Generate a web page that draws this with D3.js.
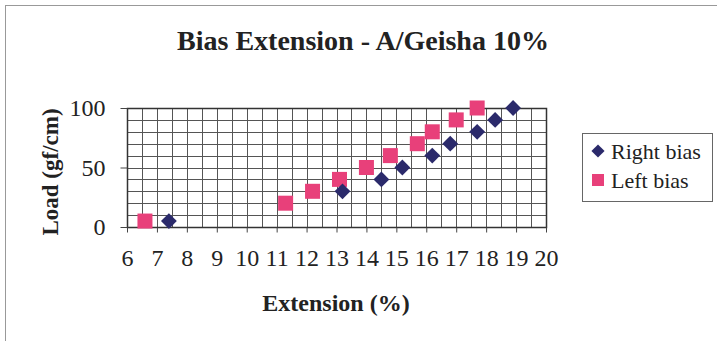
<!DOCTYPE html>
<html>
<head>
<meta charset="utf-8">
<script src="https://cdn.jsdelivr.net/npm/d3@7"></script>
<style>
  body { margin: 0; background: #fff; }
  svg { display: block; font-family: "Liberation Serif", "Times New Roman", serif; }
</style>
</head>
<body>
<div id="chart"></div>
<script>
(function () {
    'use strict';

    var rightExt = [7.4, 13.2, 14.5, 15.2, 16.2, 16.8, 17.7, 18.3, 18.9];
    var rightLoad = [5, 30, 40, 50, 60, 70, 80, 90, 100];
    var leftExt = [6.6, 11.3, 12.2, 13.1, 14.0, 14.8, 15.7, 16.2, 17.0, 17.7];
    var leftLoad = [5, 20, 30, 40, 50, 60, 70, 80, 90, 100];
    var xTicks = [6, 7, 8, 9, 10, 11, 12, 13, 14, 15, 16, 17, 18, 19, 20];
    var yTicks = [0, 50, 100];
    var seriesNames = ['Right bias', 'Left bias'];

    var width = 717, height = 341;
    var plot = { left: 127, right: 546, top: 108, bottom: 227 };
    var navy = '#2b2a6b';
    var pink = '#e8407a';
    var ink = '#222';

    var svg = d3.select('#chart').append('svg')
        .attr('width', width)
        .attr('height', height);

    svg.append('rect')
        .attr('x', 5.5).attr('y', 5.5)
        .attr('width', width + 10).attr('height', height + 10)
        .attr('fill', '#fff')
        .attr('stroke', '#999');

    var x = d3.scaleLinear().domain([6, 20]).range([plot.left, plot.right]);
    var y = d3.scaleLinear().domain([0, 100]).range([plot.bottom, plot.top]);

    // grid
    var grid = svg.append('g').attr('stroke', '#555').attr('stroke-width', 1);
    grid.selectAll('line.v')
        .data(d3.range(6, 20.01, 0.5))
        .enter().append('line')
        .attr('x1', function (d) { return Math.round(x(d)) + 0.5; })
        .attr('x2', function (d) { return Math.round(x(d)) + 0.5; })
        .attr('y1', plot.top).attr('y2', plot.bottom);
    grid.selectAll('line.h')
        .data(d3.range(0, 100.01, 10))
        .enter().append('line')
        .attr('y1', function (d) { return Math.round(y(d)) + 0.5; })
        .attr('y2', function (d) { return Math.round(y(d)) + 0.5; })
        .attr('x1', plot.left).attr('x2', plot.right);

    svg.append('rect')
        .attr('x', plot.left + 0.5).attr('y', plot.top + 0.5)
        .attr('width', plot.right - plot.left).attr('height', plot.bottom - plot.top)
        .attr('fill', 'none').attr('stroke', '#333').attr('stroke-width', 1.5);

    // axes
    var xAxis = svg.append('g')
        .attr('transform', 'translate(0,' + (plot.bottom + 0.5) + ')')
        .call(d3.axisBottom(x).tickValues(xTicks).tickSize(5).tickPadding(25).tickFormat(d3.format('d')));
    var yAxis = svg.append('g')
        .attr('transform', 'translate(' + (plot.left + 0.5) + ',0)')
        .call(d3.axisLeft(y).tickValues(yTicks).tickSize(7).tickPadding(15));
    [xAxis, yAxis].forEach(function (a) {
        a.select('.domain').remove();
        a.selectAll('line').attr('stroke', '#444');
        a.selectAll('text')
            .attr('fill', ink)
            .style('font-family', '"Liberation Serif", serif')
            .style('font-size', '24px');
    });
    xAxis.selectAll('text').attr('y', 21);

    // series
    svg.append('g').selectAll('rect')
        .data(leftExt)
        .enter().append('rect')
        .attr('x', function (d) { return x(d) - 7.5; })
        .attr('y', function (d, i) { return y(leftLoad[i]) - 7.5; })
        .attr('width', 15).attr('height', 15)
        .attr('fill', pink);

    var diamond = d3.symbol().type(d3.symbolDiamond2).size(160);
    svg.append('g').selectAll('path')
        .data(rightExt)
        .enter().append('path')
        .attr('d', diamond)
        .attr('transform', function (d, i) { return 'translate(' + x(d) + ',' + y(rightLoad[i]) + ')'; })
        .attr('fill', navy);

    // titles
    svg.append('text')
        .attr('x', 363).attr('y', 50)
        .attr('text-anchor', 'middle')
        .style('font-size', '28px').style('font-weight', 'bold')
        .attr('fill', ink)
        .text('Bias Extension - A/Geisha 10%');

    svg.append('text')
        .attr('x', 336).attr('y', 311)
        .attr('text-anchor', 'middle')
        .style('font-size', '24px').style('font-weight', 'bold')
        .attr('fill', ink)
        .text('Extension (%)');

    svg.append('text')
        .attr('transform', 'translate(58,172) rotate(-90)')
        .attr('text-anchor', 'middle')
        .style('font-size', '23px').style('font-weight', 'bold')
        .attr('fill', ink)
        .text('Load (gf/cm)');

    // legend
    var legend = svg.append('g');
    legend.append('rect')
        .attr('x', 582.5).attr('y', 133.5)
        .attr('width', 130).attr('height', 68)
        .attr('fill', '#fff').attr('stroke', '#666');
    var items = legend.selectAll('g')
        .data(seriesNames)
        .enter().append('g')
        .attr('transform', function (d, i) { return 'translate(598,' + (151 + i * 29) + ')'; });
    items.each(function (d, i) {
        var g = d3.select(this);
        if (i === 0) {
            g.append('path').attr('d', d3.symbol().type(d3.symbolDiamond2).size(110)).attr('fill', navy);
        } else {
            g.append('rect').attr('x', -6).attr('y', -6).attr('width', 12).attr('height', 12).attr('fill', pink);
        }
        g.append('text')
            .attr('x', 13).attr('dy', '0.35em')
            .style('font-size', '22px')
            .attr('fill', ink)
            .text(d);
    });
})();
</script>
</body>
</html>
